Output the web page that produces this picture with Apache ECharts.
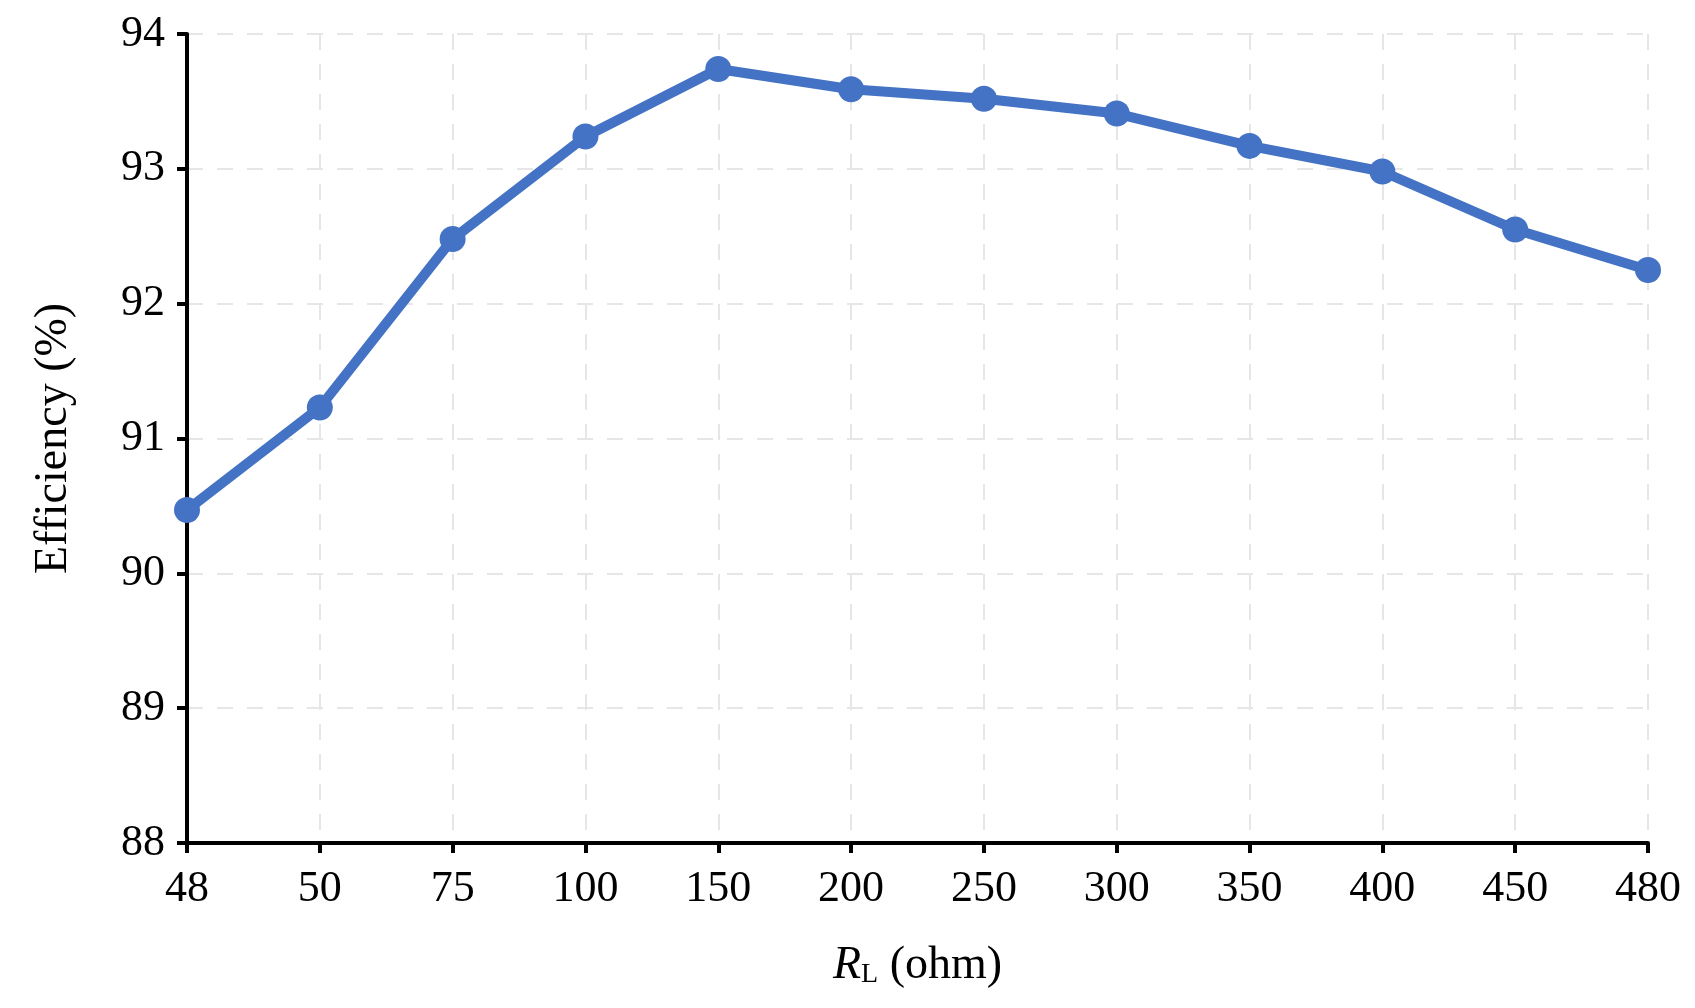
<!DOCTYPE html>
<html>
<head>
<meta charset="utf-8">
<script src="https://cdn.jsdelivr.net/npm/echarts@6/dist/echarts.min.js"></script>
<style>html,body{margin:0;background:#fff}#c{width:1695px;height:1008px}</style>
</head>
<body>
<div id="c"></div>
<script>
var loads = ['48', '50', '75', '100', '150', '200', '250', '300', '350', '400', '450', '480'];
var efficiency = [90.47, 91.23, 92.48, 93.24, 93.74, 93.59, 93.52, 93.41, 93.17, 92.98, 92.55, 92.25];

var chart = echarts.init(document.getElementById('c'));
var font = 'Liberation Serif';
chart.setOption({
    animation: false,
    grid: { left: 187, right: 47, top: 34, bottom: 165 },
    xAxis: {
        type: 'category',
        data: loads,
        boundaryGap: false,
        name: '{i|R}{s|L} (ohm)',
        nameLocation: 'middle',
        nameGap: 100,
        nameTextStyle: {
            color: '#000', fontFamily: font, fontSize: 46,
            rich: {
                i: { fontFamily: font, fontSize: 46, fontStyle: 'italic', color: '#000' },
                s: { fontFamily: font, fontSize: 28, color: '#000', verticalAlign: 'bottom', padding: [18, 0, 0, 0] }
            }
        },
        axisLine: { lineStyle: { color: '#000', width: 4 } },
        axisTick: { alignWithLabel: true, length: 10, lineStyle: { color: '#000', width: 4 } },
        axisLabel: { color: '#000', fontFamily: font, fontSize: 44, margin: 24 },
        splitLine: { show: true, lineStyle: { color: '#e6e6e6', width: 2, type: [16, 14] } }
    },
    yAxis: {
        type: 'value',
        min: 88, max: 94, interval: 1,
        name: 'Efficiency (%)',
        nameLocation: 'middle',
        nameGap: 110,
        nameTextStyle: { color: '#000', fontFamily: font, fontSize: 46 },
        axisLine: { show: true, lineStyle: { color: '#000', width: 4 } },
        axisTick: { show: true, length: 10, lineStyle: { color: '#000', width: 4 } },
        axisLabel: { color: '#000', fontFamily: font, fontSize: 44, margin: 22 },
        splitLine: { lineStyle: { color: '#e6e6e6', width: 2, type: [16, 14] } }
    },
    series: [{
        type: 'line',
        data: efficiency,
        symbol: 'circle',
        symbolSize: 26,
        itemStyle: { color: '#4472c4' },
        lineStyle: { color: '#4472c4', width: 10 }
    }]
});
</script>
</body>
</html>
